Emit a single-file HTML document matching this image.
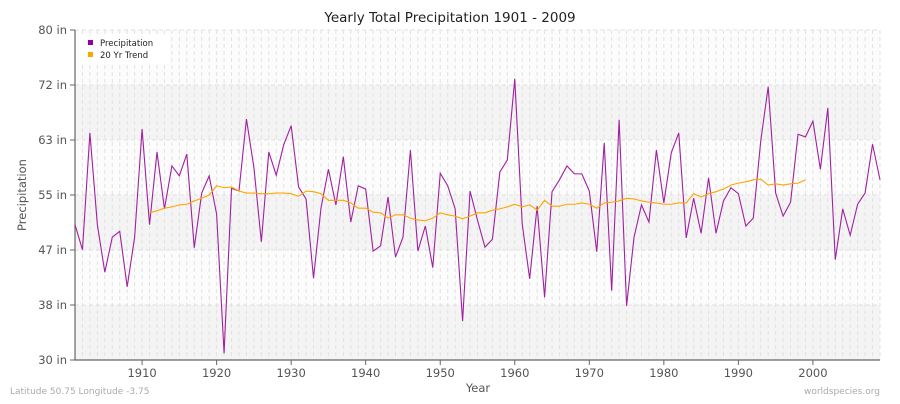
<!DOCTYPE html>
<html><head><meta charset="utf-8"><style>
body{margin:0;background:#fff;font-family:"DejaVu Sans",sans-serif}
</style></head><body>
<svg id="chart" width="900" height="400" xmlns="http://www.w3.org/2000/svg" font-family="DejaVu Sans, sans-serif">
<text x="450" y="22" text-anchor="middle" font-size="13.5" fill="#222">Yearly Total Precipitation 1901 - 2009</text>
<g id="bands"></g><g id="grid"></g><g id="axes"></g><g id="series"></g>
<text transform="translate(26,195) rotate(-90)" text-anchor="middle" font-size="11.5" fill="#555">Precipitation</text>
<text x="478" y="392" text-anchor="middle" font-size="11.5" fill="#555">Year</text>
<text x="10" y="394" font-size="9" fill="#aaa">Latitude 50.75 Longitude -3.75</text>
<text x="880" y="394" text-anchor="end" font-size="9" fill="#aaa">worldspecies.org</text>
<g>
<rect x="80" y="34" width="90" height="30" rx="3" fill="#fff" opacity="0.9"/>
<rect x="88" y="40" width="5" height="5" fill="#990099"/>
<text x="100" y="46" font-size="8.5" fill="#222">Precipitation</text>
<rect x="88" y="52" width="5" height="5" fill="#ffa500"/>
<text x="100" y="58" font-size="8.5" fill="#222">20 Yr Trend</text>
</g>
</svg>
<script>
const precipValues=[50.5,46.7,64.4,50.5,43.3,48.6,49.5,41.1,48.6,65,50.5,61.5,52.9,59.4,57.9,61.2,47,55.3,57.9,52.1,31,56,55.6,66.5,59.2,47.9,61.5,58,62.6,65.5,56.2,54.4,42.4,53,58.9,53.5,60.8,50.9,56.4,55.9,46.5,47.3,54.7,45.6,48.6,61.8,46.5,50.3,44,58.3,56.4,52.9,35.9,55.6,51.2,47.1,48.3,58.5,60.3,72.6,50.6,42.3,53.3,39.5,55.5,57.3,59.4,58.2,58.2,55.6,46.4,62.9,40.5,66.4,38.2,48.6,53.5,50.9,61.8,53.8,61.4,64.4,48.5,54.5,49.2,57.6,49.2,54.1,56.1,55.2,50.3,51.5,63.2,71.4,55.3,51.8,53.9,64.2,63.8,66.2,58.9,68.2,45.2,52.9,48.9,53.6,55.3,62.7,57.3];
const trendStartYear=1911;
const trendValues=[52.3,52.6,53.0,53.2,53.5,53.6,54.1,54.5,55.0,56.4,56.1,56.2,55.6,55.3,55.3,55.2,55.2,55.3,55.3,55.2,54.8,55.6,55.5,55.2,54.2,54.2,54.2,53.8,53.0,53.0,52.4,52.3,51.5,52.0,52.0,51.5,51.2,51.1,51.5,52.3,52.0,51.8,51.4,51.8,52.3,52.3,52.7,52.9,53.2,53.6,53.2,53.5,52.7,54.2,53.3,53.3,53.6,53.6,53.8,53.6,53.0,53.8,53.9,54.1,54.5,54.4,54.1,53.9,53.8,53.6,53.6,53.8,53.8,55.2,54.7,55.2,55.5,55.9,56.5,56.8,57.0,57.3,57.4,56.5,56.7,56.5,56.7,56.8,57.3];
const yTickValues=[30,38.333,46.667,55,63.333,71.667,80];
const yTickLabels=["30 in","38 in","47 in","55 in","63 in","72 in","80 in"];
const xTickYears=[1910,1920,1930,1940,1950,1960,1970,1980,1990,2000];
const startYear=1901;
const NS="http://www.w3.org/2000/svg";
const L=75,R=880,T=30,B=360;
const xs=yr=>L+(yr-1901)*(R-L)/108;
const ys=v=>B-(v-30)*(B-T)/50;
function mk(tag,attrs,parent){const e=document.createElementNS(NS,tag);for(const k in attrs)e.setAttribute(k,attrs[k]);document.getElementById(parent).appendChild(e);return e;}
for(let i=0;i<yTickValues.length-1;i++){
 const b=mk('rect',{x:L,y:ys(yTickValues[i+1]),width:R-L,height:ys(yTickValues[i])-ys(yTickValues[i+1]),fill:i%2==0?'#f4f4f4':'#fcfcfc'},'bands');
 
 
}
for(let yr=1901;yr<=2009;yr++){
 const g=mk('line',{x1:xs(yr),x2:xs(yr),y1:T,y2:B,stroke:'#e2e2e2','stroke-dasharray':'4,3','stroke-width':1},'grid');
 
 
}
yTickValues.forEach((v,i)=>{
 const g=mk('line',{x1:L,x2:R,y1:ys(v),y2:ys(v),stroke:'#e0e0e0','stroke-dasharray':'4,3'},'grid');
 
 
 const t=mk('text',{x:67,y:ys(v)+4,'text-anchor':'end','font-size':11.5,fill:'#555'},'axes');
 t.textContent=yTickLabels[i];
 
 
 const tk=mk('line',{x1:L-5,x2:L,y1:ys(v),y2:ys(v),stroke:'#666'},'axes');
 
 
});
const ax=mk('path',{d:`M${L},${T}V${B}H${R}`,fill:'none',stroke:'#666','stroke-width':1.2},'axes');


xTickYears.forEach(yr=>{
 const tk=mk('line',{x1:xs(yr),x2:xs(yr),y1:B,y2:B+5,stroke:'#666'},'axes');
 
 
 const t=mk('text',{x:xs(yr),y:B+17,'text-anchor':'middle','font-size':11.5,fill:'#555'},'axes');
 t.textContent=yr;
 
 
});
const pp=mk('polyline',{points:precipValues.map((v,i)=>xs(startYear+i)+','+ys(v)).join(' '),fill:'none',stroke:'#a020a0','stroke-width':1.1},'series');


const tp=mk('polyline',{points:trendValues.map((v,i)=>xs(trendStartYear+i)+','+ys(v)).join(' '),fill:'none',stroke:'#ffa500','stroke-width':1.1},'series');


</script>
</body></html>
